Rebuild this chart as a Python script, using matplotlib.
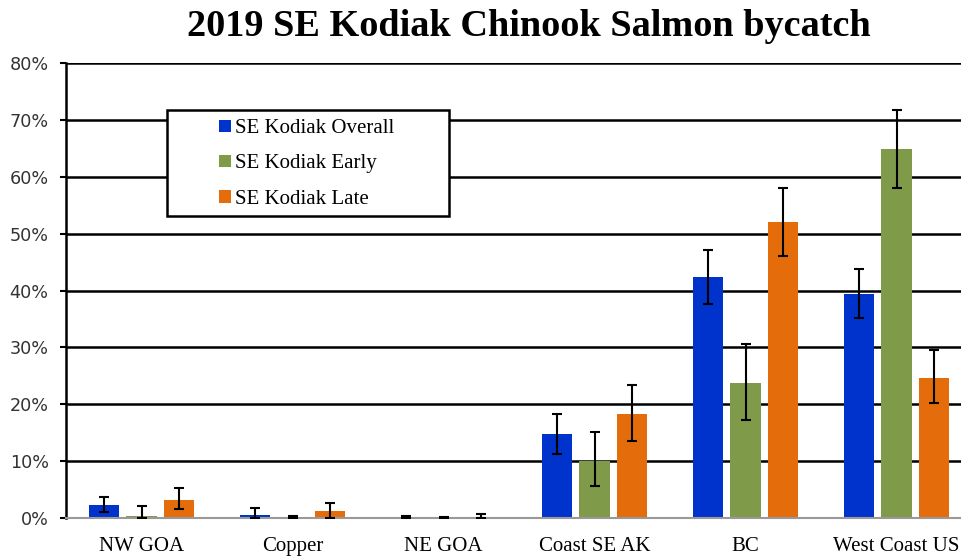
import numpy as np
import matplotlib.pyplot as plt
from matplotlib.patches import Rectangle
from matplotlib.ticker import PercentFormatter

# dati (percentuali)
regions = ['NW GOA', 'Copper', 'NE GOA', 'Coast SE AK', 'BC', 'West Coast US']
series = ['SE Kodiak Overall', 'SE Kodiak Early', 'SE Kodiak Late']

overall = [2.2, 0.6, 0.0, 14.7, 42.3, 39.4]
overall_lo = [1.0, 0.0, 0.0, 11.3, 37.6, 35.2]
overall_hi = [3.7, 1.8, 0.3, 18.3, 47.1, 43.7]

early = [0.4, 0.0, 0.0, 10.0, 23.7, 64.9]
early_lo = [0.0, 0.0, 0.0, 5.7, 17.2, 58.0]
early_hi = [2.1, 0.3, 0.15, 15.1, 30.6, 71.7]

late = [3.2, 1.2, 0.0, 18.3, 52.0, 24.6]
late_lo = [1.5, 0.0, 0.0, 13.6, 46.1, 20.3]
late_hi = [5.3, 2.7, 0.7, 23.4, 58.0, 29.6]

colors = ['#0033CC', '#7F9A48', '#E46C0A']

fig = plt.figure(figsize=(9.61, 5.56), dpi=100)
ax = fig.add_axes([66 / 961, 38 / 556, 906 / 961, 455 / 556])

x = np.arange(len(regions))
w = 0.2
off = 0.25
for i, (vals, lo, hi) in enumerate([(overall, overall_lo, overall_hi),
                                    (early, early_lo, early_hi),
                                    (late, late_lo, late_hi)]):
    vals = np.array(vals)
    err = [vals - np.array(lo), np.array(hi) - vals]
    ax.bar(x + (i - 1) * off, vals, width=w, color=colors[i], label=series[i], zorder=2)
    ax.errorbar(x + (i - 1) * off, vals, yerr=err, fmt='none', ecolor='black',
                elinewidth=1.5, capsize=3.5, capthick=1.5, zorder=3)

ax.set_xlim(-0.5, len(regions) - 0.5)
ax.set_ylim(0, 80)
ax.set_yticks(np.arange(0, 81, 10))
ax.yaxis.set_major_formatter(PercentFormatter(decimals=0))
ax.grid(axis='y', color='black', linewidth=1.8, zorder=0)
ax.set_axisbelow(True)
ax.set_xticks(x)
ax.set_xticklabels(regions, fontfamily='Liberation Serif', fontsize=15)
ax.tick_params(axis='x', length=0, pad=14)
ax.tick_params(axis='y', length=4.5, width=1.5, labelsize=12.7, pad=8, colors='black')
for lab in ax.get_yticklabels():
    lab.set_color('#333333')

for s in ['top', 'right']:
    ax.spines[s].set_visible(False)
ax.spines['left'].set_linewidth(1.8)
ax.spines['bottom'].set_color('#999999')
ax.spines['bottom'].set_linewidth(1.5)

# riquadro della legenda
ax.add_patch(Rectangle((101 / 906, (518 - 216) / 455), 282 / 906, 106 / 455,
                       transform=ax.transAxes, facecolor='white', edgecolor='black',
                       linewidth=1.8, zorder=4))
leg = ax.legend(loc='upper left', bbox_to_anchor=(149 / 906, (518 - 115) / 455),
                frameon=False, prop={'family': 'Liberation Serif', 'size': 15},
                handlelength=0.55, handleheight=0.55, handletextpad=0.2,
                labelspacing=0.78, borderpad=0.2, borderaxespad=0)
leg.set_zorder(5)

fig.text(529 / 961, 1 - 27 / 556, '2019 SE Kodiak Chinook Salmon bycatch',
         ha='center', va='center', fontfamily='Liberation Serif',
         fontweight='bold', fontsize=27.5)

fig.savefig('out.png', dpi=100)
